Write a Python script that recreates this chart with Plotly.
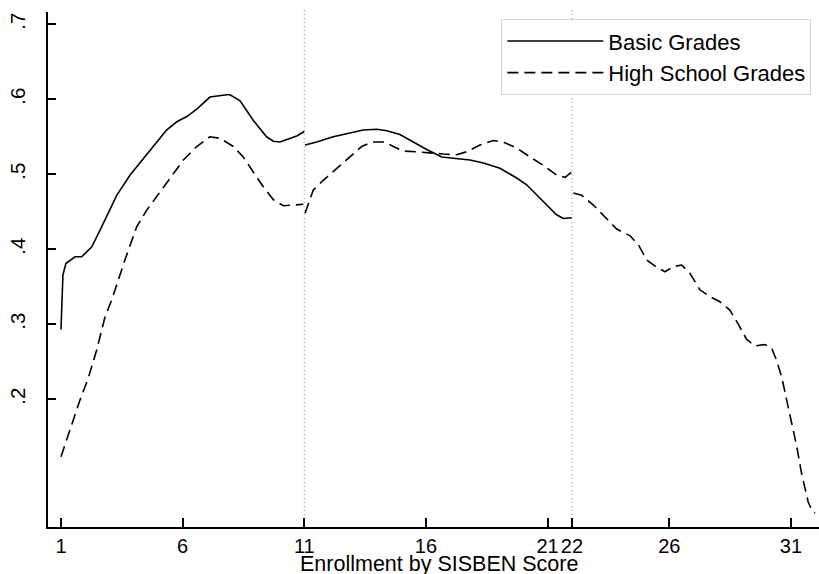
import plotly.graph_objects as go

# ---- data ----
x_tick_vals = [1, 6, 11, 16, 21, 22, 26, 31]
y_tick_vals = [0.2, 0.3, 0.4, 0.5, 0.6, 0.7]
y_tick_text = [".2", ".3", ".4", ".5", ".6", ".7"]
cutoffs = [11, 22]
x_title = "Enrollment by SISBEN Score"

# Basic Grades, segment 1 (score 1-11)
basic_x1 = [1.0, 1.08, 1.2, 1.44, 1.58, 1.85, 2.26, 2.67, 3.29, 3.84, 4.25, 4.79, 5.34,
            5.76, 6.17, 6.58, 7.12, 7.81, 7.95, 8.36, 8.90, 9.45, 9.73, 10.0, 10.69, 11.0]
basic_y1 = [0.293, 0.366, 0.381, 0.387, 0.390, 0.390, 0.403, 0.430, 0.472, 0.499, 0.515, 0.537, 0.559,
            0.570, 0.577, 0.587, 0.603, 0.606, 0.606, 0.598, 0.572, 0.550, 0.544, 0.543, 0.551, 0.557]
# Basic Grades, segment 2 (score 11-22)
basic_x2 = [11.03, 11.51, 12.19, 12.88, 13.42, 13.98, 14.39, 14.93, 15.48, 16.03, 16.65, 17.12,
            17.81, 18.36, 19.04, 19.73, 20.14, 20.69, 21.10, 21.37, 21.65, 21.99]
basic_y2 = [0.539, 0.543, 0.550, 0.555, 0.559, 0.560, 0.558, 0.553, 0.543, 0.533, 0.523, 0.521,
            0.519, 0.515, 0.508, 0.495, 0.486, 0.468, 0.455, 0.446, 0.441, 0.442]

# High School Grades, segment 1
hs_x1 = [1.0, 1.37, 1.78, 2.12, 2.47, 2.81, 3.08, 3.63, 4.11, 4.52, 4.93, 5.62, 6.03, 6.58,
         7.12, 7.54, 8.09, 8.49, 8.90, 9.32, 9.73, 10.14, 10.55, 10.96]
hs_y1 = [0.1235, 0.159, 0.199, 0.228, 0.266, 0.310, 0.332, 0.386, 0.430, 0.452, 0.470, 0.501, 0.519, 0.537,
         0.550, 0.548, 0.537, 0.523, 0.503, 0.483, 0.466, 0.458, 0.459, 0.460]
# High School Grades, segment 2
hs_x2 = [11.03, 11.37, 11.78, 12.33, 12.88, 13.36, 13.77, 14.32, 14.66, 15.07, 15.62, 16.17,
         16.71, 17.26, 17.67, 18.22, 18.77, 19.18, 19.73, 20.28, 20.82, 21.37, 21.72, 21.99]
hs_y2 = [0.448, 0.479, 0.492, 0.508, 0.523, 0.537, 0.543, 0.543, 0.537, 0.531, 0.530, 0.528,
         0.527, 0.526, 0.530, 0.539, 0.545, 0.543, 0.535, 0.523, 0.512, 0.499, 0.496, 0.503]
# High School Grades, segment 3
hs_x3 = [22.06, 22.40, 22.88, 23.43, 23.84, 24.39, 24.73, 25.07, 25.48, 25.83, 26.17, 26.51,
         26.85, 27.26, 27.67, 28.08, 28.49, 28.84, 29.18, 29.52, 29.93, 30.21, 30.41, 30.62,
         30.83, 31.03, 31.24, 31.44, 31.58, 31.71, 31.85, 31.99]
hs_y3 = [0.475, 0.472, 0.459, 0.441, 0.427, 0.418, 0.406, 0.386, 0.376, 0.370, 0.377, 0.379,
         0.368, 0.346, 0.337, 0.330, 0.319, 0.300, 0.280, 0.271, 0.273, 0.268, 0.252, 0.230,
         0.199, 0.168, 0.137, 0.101, 0.079, 0.063, 0.053, 0.048]


def join(*segs):
    xs, ys = [], []
    for i, (sx, sy) in enumerate(segs):
        if i:
            xs.append(None)
            ys.append(None)
        xs += sx
        ys += sy
    return xs, ys


bx, by = join((basic_x1, basic_y1), (basic_x2, basic_y2))
hx, hy = join((hs_x1, hs_y1), (hs_x2, hs_y2), (hs_x3, hs_y3))

FONT = "Liberation Sans, Arial, sans-serif"

fig = go.Figure()
fig.add_trace(go.Scatter(x=bx, y=by, mode="lines", name="Basic Grades",
                         line=dict(color="black", width=1.6), connectgaps=False,
                         legendgroup="a"))
fig.add_trace(go.Scatter(x=hx, y=hy, mode="lines", name="High School Grades",
                         line=dict(color="black", width=1.6, dash="11px,6px"), connectgaps=False,
                         legendgroup="b"))

for c in cutoffs:
    fig.add_shape(type="line", xref="x", yref="paper", x0=c, x1=c, y0=0, y1=1.01,
                  line=dict(color="#8a8a8a", width=1, dash="1px,3px"), layer="below")

# x-axis title placed as an annotation so it can sit at the very bottom like the reference
fig.add_annotation(text=x_title, xref="paper", yref="paper", x=0.507, y=-0.045,
                   xanchor="center", yanchor="top", showarrow=False,
                   font=dict(family=FONT, size=21.5, color="black"))

fig.update_layout(
    width=819, height=574,
    margin=dict(l=48, r=0, t=12, b=47),
    paper_bgcolor="white", plot_bgcolor="white",
    font=dict(family=FONT, color="black", size=20),
    showlegend=True,
    legend=dict(x=0.588, y=0.986, xanchor="left", yanchor="top",
                bgcolor="white", bordercolor="#d6d6d6", borderwidth=1,
                font=dict(size=22), itemwidth=96, traceorder="grouped",
                tracegroupgap=0),
    xaxis=dict(range=[0.466, 32.155], tickmode="array", tickvals=x_tick_vals,
               tickangle=0,
               ticks="inside", ticklen=9, tickwidth=1.5, tickcolor="black",
               showline=True, linecolor="black", linewidth=1.5, showgrid=False,
               zeroline=False, tickfont=dict(size=20),
               automargin=False),
    yaxis=dict(range=[0.0297, 0.7164], tickmode="array", tickvals=y_tick_vals,
               ticktext=y_tick_text, tickangle=-90,
               ticks="inside", ticklen=8, tickwidth=1.5, tickcolor="black",
               showline=True, linecolor="black", linewidth=1.5, showgrid=False,
               zeroline=False, tickfont=dict(size=20.5), ticklabelstandoff=13,
               automargin=False),
)

fig.write_html("out.html")
